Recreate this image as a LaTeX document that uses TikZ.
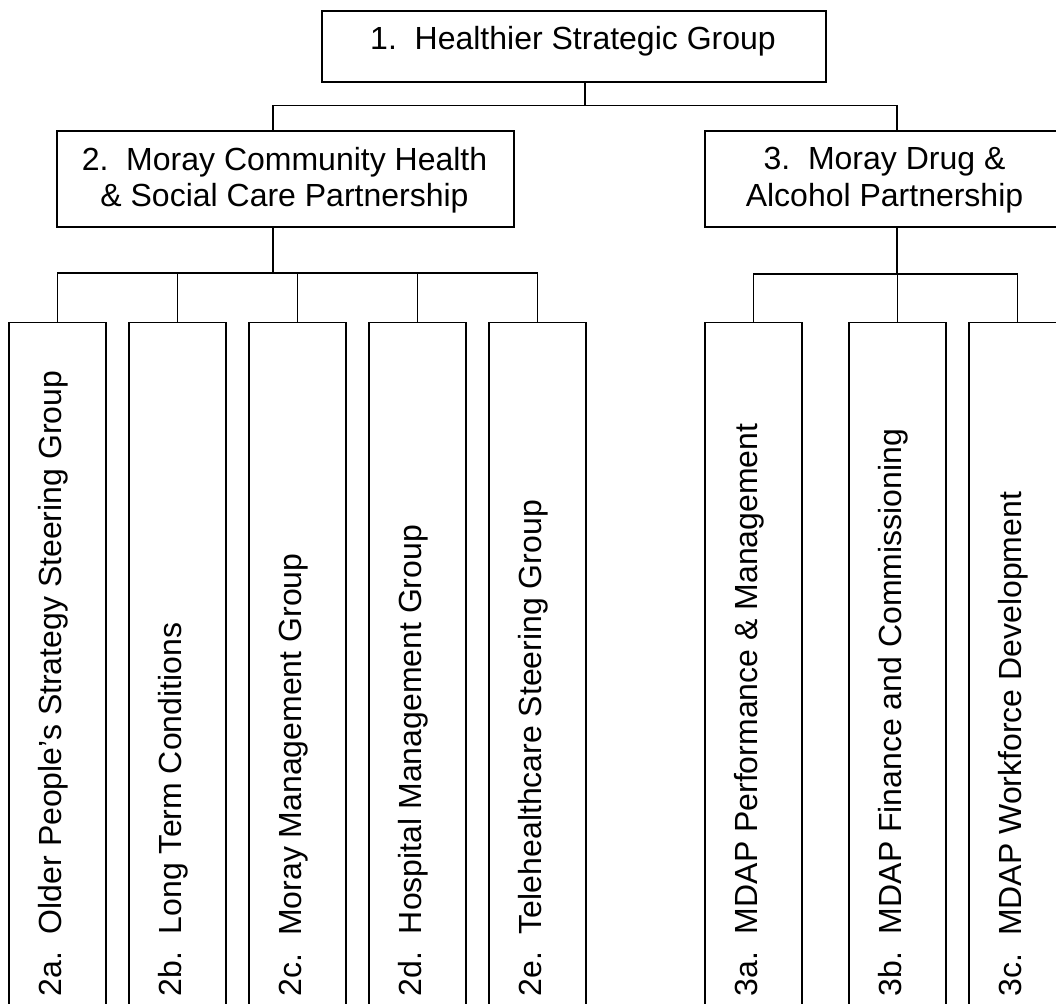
\documentclass[tikz,border=0pt]{standalone}
\usepackage{fontspec}
\setmainfont{Liberation Sans}
\begin{document}
\begin{tikzpicture}[x=1pt,y=-1pt,
  every node/.style={font=\fontsize{32}{36.8}\selectfont, inner sep=0pt},
  box/.style={draw, line width=1.6pt, anchor=north west},
  kid/.style={box, minimum width=96.7pt, minimum height=700pt},
  kidr/.style={box, minimum width=97pt, minimum height=700pt},
  vtext/.style={rotate=90, anchor=base west},
  conn/.style={line width=1.6pt}]
\useasboundingbox (0,0) rectangle (1056,1003);
\clip (0,0) rectangle (1056,1003);
\fill[white] (0,0) rectangle (1056,1003);

% boxes
\node[box, minimum width=504pt, minimum height=71.5pt] (top) at (321,10) {};
\node[box, minimum width=457pt, minimum height=96pt] (b2) at (56,130) {};
\node[box, minimum width=361pt, minimum height=96pt] (b3) at (704,130) {};

\node[kid] (c2a) at (8.3,321.7) {};
\node[kid] (c2b) at (128.3,321.7) {};
\node[kid] (c2c) at (248.3,321.7) {};
\node[kid] (c2d) at (368.3,321.7) {};
\node[kid] (c2e) at (488.3,321.7) {};
\node[kidr] (c3a) at (704.3,321.7) {};
\node[kidr] (c3b) at (848.3,321.7) {};
\node[kidr] (c3c) at (968.3,321.7) {};

% texts
\node[anchor=base] (ttop) at (573,50) {1.~~Healthier Strategic Group};
\node[align=center] (tb2) at (284.5,180.3) {2.~~Moray Community Health\\\& Social Care Partnership};
\node[align=center] (tb3) at (884.5,180.3) {3.~~Moray Drug \&\\Alcohol Partnership};

\node[vtext] (t2a) at (61.7,996.5) {2a.~~Older People's Strategy Steering Group};
\node[vtext] (t2b) at (181.7,996.5) {2b.~~Long Term Conditions};
\node[vtext] (t2c) at (301.7,996.5) {2c.~~Moray Management Group};
\node[vtext] (t2d) at (421.7,996.5) {2d.~~Hospital Management Group};
\node[vtext] (t2e) at (541.7,996.5) {2e.~~Telehealthcare Steering Group};
\node[vtext] (t3a) at (757.5,996.5) {3a.~~MDAP Performance \& Management};
\node[vtext] (t3b) at (901.5,996.5) {3b.~~MDAP Finance and Commissioning};
\node[vtext] (t3c) at (1021.5,996.5) {3c.~~MDAP Workforce Development};

% connector reference points
\coordinate (bus1) at (585,105.7);
\coordinate (x2) at (272.7,0);
\coordinate (x3) at (897,0);
\coordinate (bus2) at (0,273);
\coordinate (bus3) at (0,274);

% connectors
\draw[conn] (top.south -| bus1) -- (bus1);
\draw[conn] (b2.north -| x2) -- (x2 |- bus1) -- (x3 |- bus1) -- (b3.north -| x3);

\draw[conn] (b2.south -| x2) -- (x2 |- bus2);
\draw[conn] (c2a.north) -- (c2a.north |- bus2) -- (c2e.north |- bus2) -- (c2e.north);
\foreach \n in {b,c,d} \draw[conn] (c2\n.north) -- (c2\n.north |- bus2);

\draw[conn] (b3.south -| x3) -- (x3 |- bus3);
\draw[conn] (c3a.north) -- (c3a.north |- bus3) -- (c3c.north |- bus3) -- (c3c.north);
\draw[conn] (c3b.north) -- (c3b.north |- bus3);
\end{tikzpicture}
\end{document}
